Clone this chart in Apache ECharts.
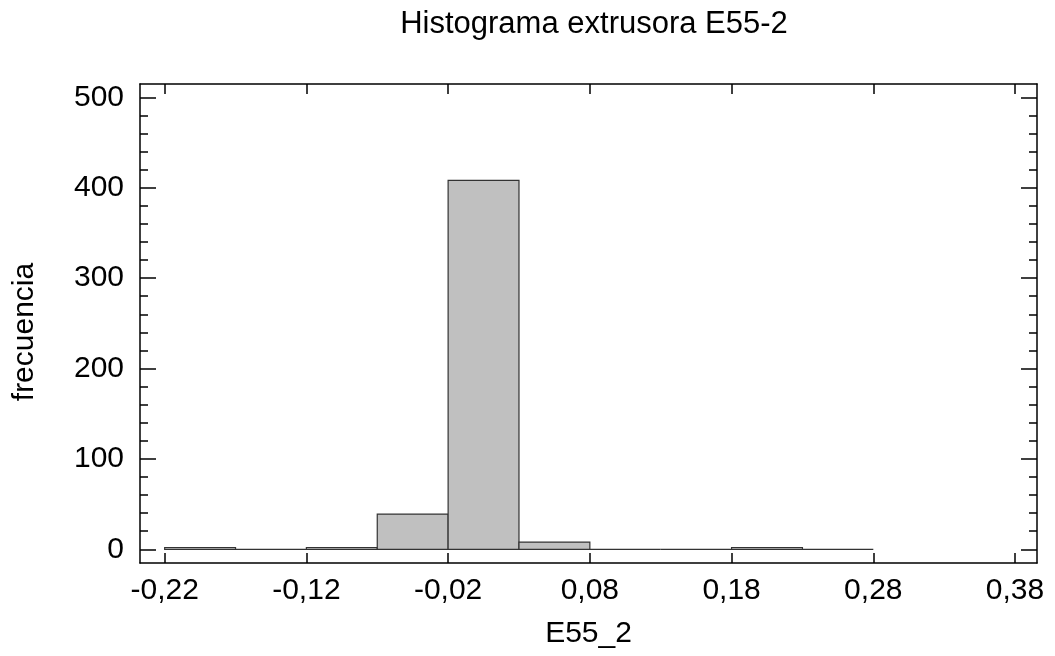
<!DOCTYPE html>
<html>
<head>
<meta charset="utf-8">
<script src="https://cdn.jsdelivr.net/npm/echarts@6/dist/echarts.min.js"></script>
<style>html,body{margin:0;padding:0;background:#fff;}#c{width:1055px;height:656px;}</style>
</head>
<body>
<div id="c"></div>
<script>
// Histogram data
var binEdges = [-0.22, -0.17, -0.12, -0.07, -0.02, 0.03, 0.08, 0.13, 0.18, 0.23, 0.28];
var counts = [2, 0, 2, 39, 408, 8, 0, 0, 2, 0];
var xTicks = [-0.22, -0.12, -0.02, 0.08, 0.18, 0.28, 0.38];
var yTicks = [0, 100, 200, 300, 400, 500];
var yMinorTicks = [0,20,40,60,80,100,120,140,160,180,200,220,240,260,280,300,320,340,360,380,400,420,440,460,480,500];

var rows = [];
for (var i = 0; i < counts.length; i++) rows.push([binEdges[i], binEdges[i + 1], counts[i]]);

var FONT = "'Liberation Sans', Arial, Helvetica, sans-serif";
var FS = 30;
var XMIN = -0.2374, XMAX = 0.3955, YMIN = -15.15, YMAX = 514.7;
var lineStyle = { color: '#000', width: 1.5 };

function xAxisDef(pos, labels) {
  return {
    type: 'value', position: pos, min: XMIN, max: XMAX,
    axisLine: { show: true, onZero: false, lineStyle: lineStyle },
    axisTick: { show: true, inside: true, length: 10, lineStyle: lineStyle, customValues: xTicks },
    axisLabel: labels ? {
      show: true, customValues: xTicks, margin: 13, color: '#000', fontFamily: FONT, fontSize: FS,
      formatter: function (v) { return v.toFixed(2).replace('.', ','); }
    } : { show: false },
    splitLine: { show: false },
    name: labels ? 'E55_2' : '', nameLocation: 'middle', nameGap: 56,
    nameTextStyle: { color: '#000', fontFamily: FONT, fontSize: FS }
  };
}
function yAxisDef(pos, ticks, len, labels, line) {
  return {
    type: 'value', position: pos, min: YMIN, max: YMAX,
    axisLine: { show: line, onZero: false, lineStyle: lineStyle },
    axisTick: { show: true, inside: true, length: len, lineStyle: lineStyle, customValues: ticks },
    axisLabel: labels ? { show: true, customValues: yTicks, margin: 16, color: '#000', fontFamily: FONT, fontSize: FS } : { show: false },
    splitLine: { show: false },
    name: labels ? 'frecuencia' : '', nameLocation: 'middle', nameGap: 100,
    nameTextStyle: { color: '#000', fontFamily: FONT, fontSize: FS, padding: [0, 17, 0, 0] }
  };
}

var chart = echarts.init(document.getElementById('c'), null, { renderer: 'canvas' });
chart.setOption({
  backgroundColor: '#fff',
  animation: false,
  title: {
    text: 'Histograma extrusora E55-2', left: 589, top: 4, textAlign: 'center',
    textStyle: { color: '#000', fontFamily: FONT, fontSize: 31, fontWeight: 'normal' }
  },
  grid: { left: 140, right: 18, top: 84, bottom: 93, containLabel: false },
  xAxis: [xAxisDef('bottom', true), xAxisDef('top', false)],
  yAxis: [
    yAxisDef('left', yTicks, 16, true, true),
    yAxisDef('left', yMinorTicks, 8, false, false),
    yAxisDef('right', yTicks, 16, false, true),
    yAxisDef('right', yMinorTicks, 8, false, false)
  ],
  series: [{
    type: 'custom',
    xAxisIndex: 0, yAxisIndex: 0,
    encode: { x: [0, 1], y: 2 },
    data: rows,
    renderItem: function (params, api) {
      var p0 = api.coord([api.value(0), api.value(2)]);
      var p1 = api.coord([api.value(1), 0]);
      return {
        type: 'rect',
        shape: { x: p0[0], y: p0[1], width: p1[0] - p0[0], height: p1[1] - p0[1] },
        style: { fill: '#c0c0c0', stroke: '#333', lineWidth: 1.2 }
      };
    }
  }]
});
</script>
</body>
</html>
